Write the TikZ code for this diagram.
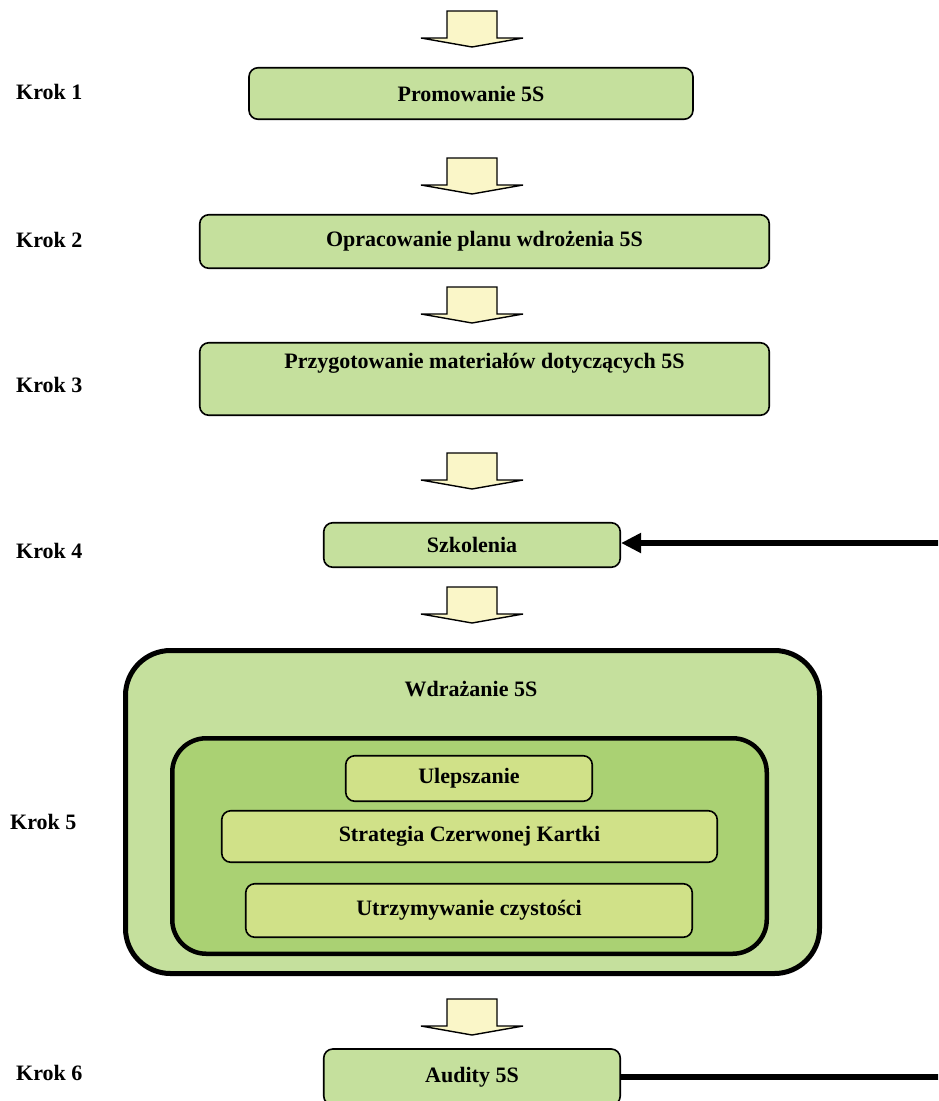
\documentclass[tikz,border=0pt]{standalone}
\usepackage{fontspec}
\setmainfont{Liberation Serif}
\usetikzlibrary{arrows.meta}
\definecolor{boxgreen}{HTML}{C5E09D}
\definecolor{innergreen}{HTML}{AAD173}
\definecolor{itemgreen}{HTML}{D0E188}
\definecolor{arrowfill}{HTML}{FAF6C8}
\begin{document}
\begin{tikzpicture}[x=1pt,y=-1pt,
  font=\bfseries\fontsize{22}{26}\selectfont,
  stepbox/.style={draw=black, line width=1.6pt, rounded corners=9pt, fill=boxgreen, inner sep=0pt},
  itembox/.style={stepbox, fill=itemgreen},
  outerbox/.style={draw=black, line width=5pt, rounded corners=45pt, fill=boxgreen, inner sep=0pt},
  innerbox/.style={draw=black, line width=4.5pt, rounded corners=34pt, fill=innergreen, inner sep=0pt},
  kroklabel/.style={anchor=west, inner sep=0pt},
  plain/.style={inner sep=0pt},
  feedback/.style={line width=5.5pt},
  blockarrow/.pic={\draw[fill=arrowfill, line width=1.4pt, line join=miter]
     (-25,0) -- (25,0) -- (25,27) -- (51,27) -- (0,36) -- (-51,27) -- (-25,27) -- cycle;}
]
\useasboundingbox (0,0) rectangle (938,1101);
\clip (0,0) rectangle (938,1101);

% step labels
\node[kroklabel] (k1) at (16,92) {Krok 1};
\node[kroklabel] (k2) at (16,240) {Krok 2};
\node[kroklabel] (k3) at (16,385) {Krok 3};
\node[kroklabel] (k4) at (16,551) {Krok 4};
\node[kroklabel] (k5) at (10,822) {Krok 5};
\node[kroklabel] (k6) at (16,1073) {Krok 6};

% block arrows
\pic at (472,11) {blockarrow};
\pic at (472,158) {blockarrow};
\pic at (472,287) {blockarrow};
\pic at (472,453) {blockarrow};
\pic at (472,587) {blockarrow};
\pic at (472,999) {blockarrow};

% step boxes
\node[stepbox, minimum width=444pt, minimum height=51.5pt] (b1) at (471,93.5) {Promowanie 5S};
\node[stepbox, minimum width=569.5pt, minimum height=53.5pt] (b2) at (484.5,241.5) {Opracowanie planu wdrożenia 5S};
\node[stepbox, minimum width=569.5pt, minimum height=72.5pt] (b3) at (484.5,379) {};
\node[plain] (b3t) at (484.5,363) {Przygotowanie materiałów dotyczących 5S};
\node[stepbox, minimum width=296.5pt, minimum height=44.5pt] (b4) at (472,545) {Szkolenia};

% step 5 container
\node[outerbox, minimum width=694pt, minimum height=323pt] (b5) at (472.5,812) {};
\node[plain] (b5t) at (471,689) {Wdrażanie 5S};
\node[innerbox, minimum width=594.5pt, minimum height=215.5pt] (b5in) at (469.5,846) {};
\node[itembox, minimum width=246.5pt, minimum height=45.5pt] (u1) at (469,778.5) {Ulepszanie};
\node[itembox, minimum width=495.5pt, minimum height=51.5pt] (u2) at (469.5,836.5) {Strategia Czerwonej Kartki};
\node[itembox, minimum width=446.5pt, minimum height=53.5pt] (u3) at (469,910.5) {Utrzymywanie czystości};

% step 6
\node[stepbox, minimum width=296.5pt, minimum height=56pt] (b6) at (472,1077) {Audity 5S};

% feedback connectors
\coordinate (r4) at (945,543);
\coordinate (r6) at (945,1077);
\draw[feedback, -{Triangle[length=20pt,width=19pt]}] (r4) -- (r4 -| b4.east);
\draw[feedback] (b6.east) -- (r6);
\end{tikzpicture}
\end{document}
